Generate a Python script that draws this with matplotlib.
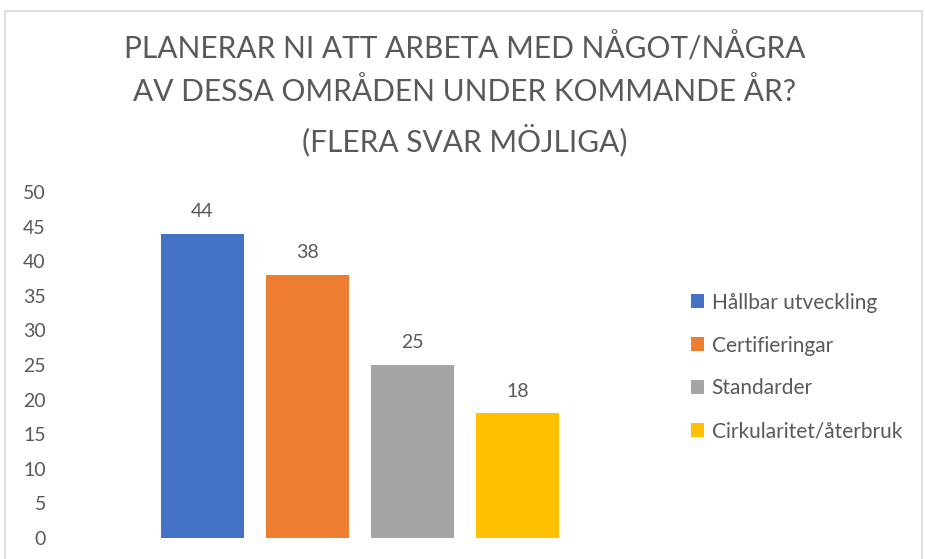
import matplotlib.pyplot as plt
from matplotlib.patches import Rectangle, Patch

categories = ["Hållbar utveckling", "Certifieringar", "Standarder", "Cirkularitet/återbruk"]
values = [44, 38, 25, 18]
colors = ["#4472C4", "#ED7D31", "#A5A5A5", "#FFC000"]
yticks = [0, 5, 10, 15, 20, 25, 30, 35, 40, 45, 50]
title = "PLANERAR NI ATT ARBETA MED NÅGOT/NÅGRA\nAV DESSA OMRÅDEN UNDER KOMMANDE ÅR?\n(FLERA SVAR MÖJLIGA)"

TEXT = "#595959"
plt.rcParams["font.family"] = ["Lato", "DejaVu Sans"]

W, H = 925, 559
fig = plt.figure(figsize=(W / 100, H / 100), dpi=100)

# chart border
fig.patches.append(Rectangle((5 / W, -0.05), (W - 8) / W, 1 - 11 / H + 0.05,
                             transform=fig.transFigure, fill=False,
                             edgecolor="#D9D9D9", linewidth=1.2))

ax = fig.add_axes([150 / W, (H - 538) / H, 420 / W, (538 - 192) / H])
x = range(len(values))
ax.bar(x, values, width=0.79, color=colors)
for xi, v in zip(x, values):
    ax.text(xi, v + 2.0, str(v), ha="center", va="bottom", fontsize=14, color=TEXT)

ax.set_xlim(-0.5, 3.5)
ax.set_ylim(0, 50)
ax.set_yticks(yticks)
ax.set_xticks([])
ax.tick_params(axis="y", length=0, pad=75, labelsize=14, labelcolor=TEXT)
for s in ax.spines.values():
    s.set_visible(False)

fig.text(465 / W, 1 - 32 / H, title, ha="center", va="top", fontsize=21.5,
         color=TEXT, linespacing=1.62)

handles = [Patch(facecolor=c) for c in colors]
fig.legend(handles, categories, loc="center left", bbox_to_anchor=(672 / W, 1 - 367 / H),
           frameon=False, fontsize=15, labelcolor=TEXT, handlelength=0.65,
           handleheight=0.65, handletextpad=0.35, labelspacing=1.1)

fig.savefig("out.png", dpi=100)
